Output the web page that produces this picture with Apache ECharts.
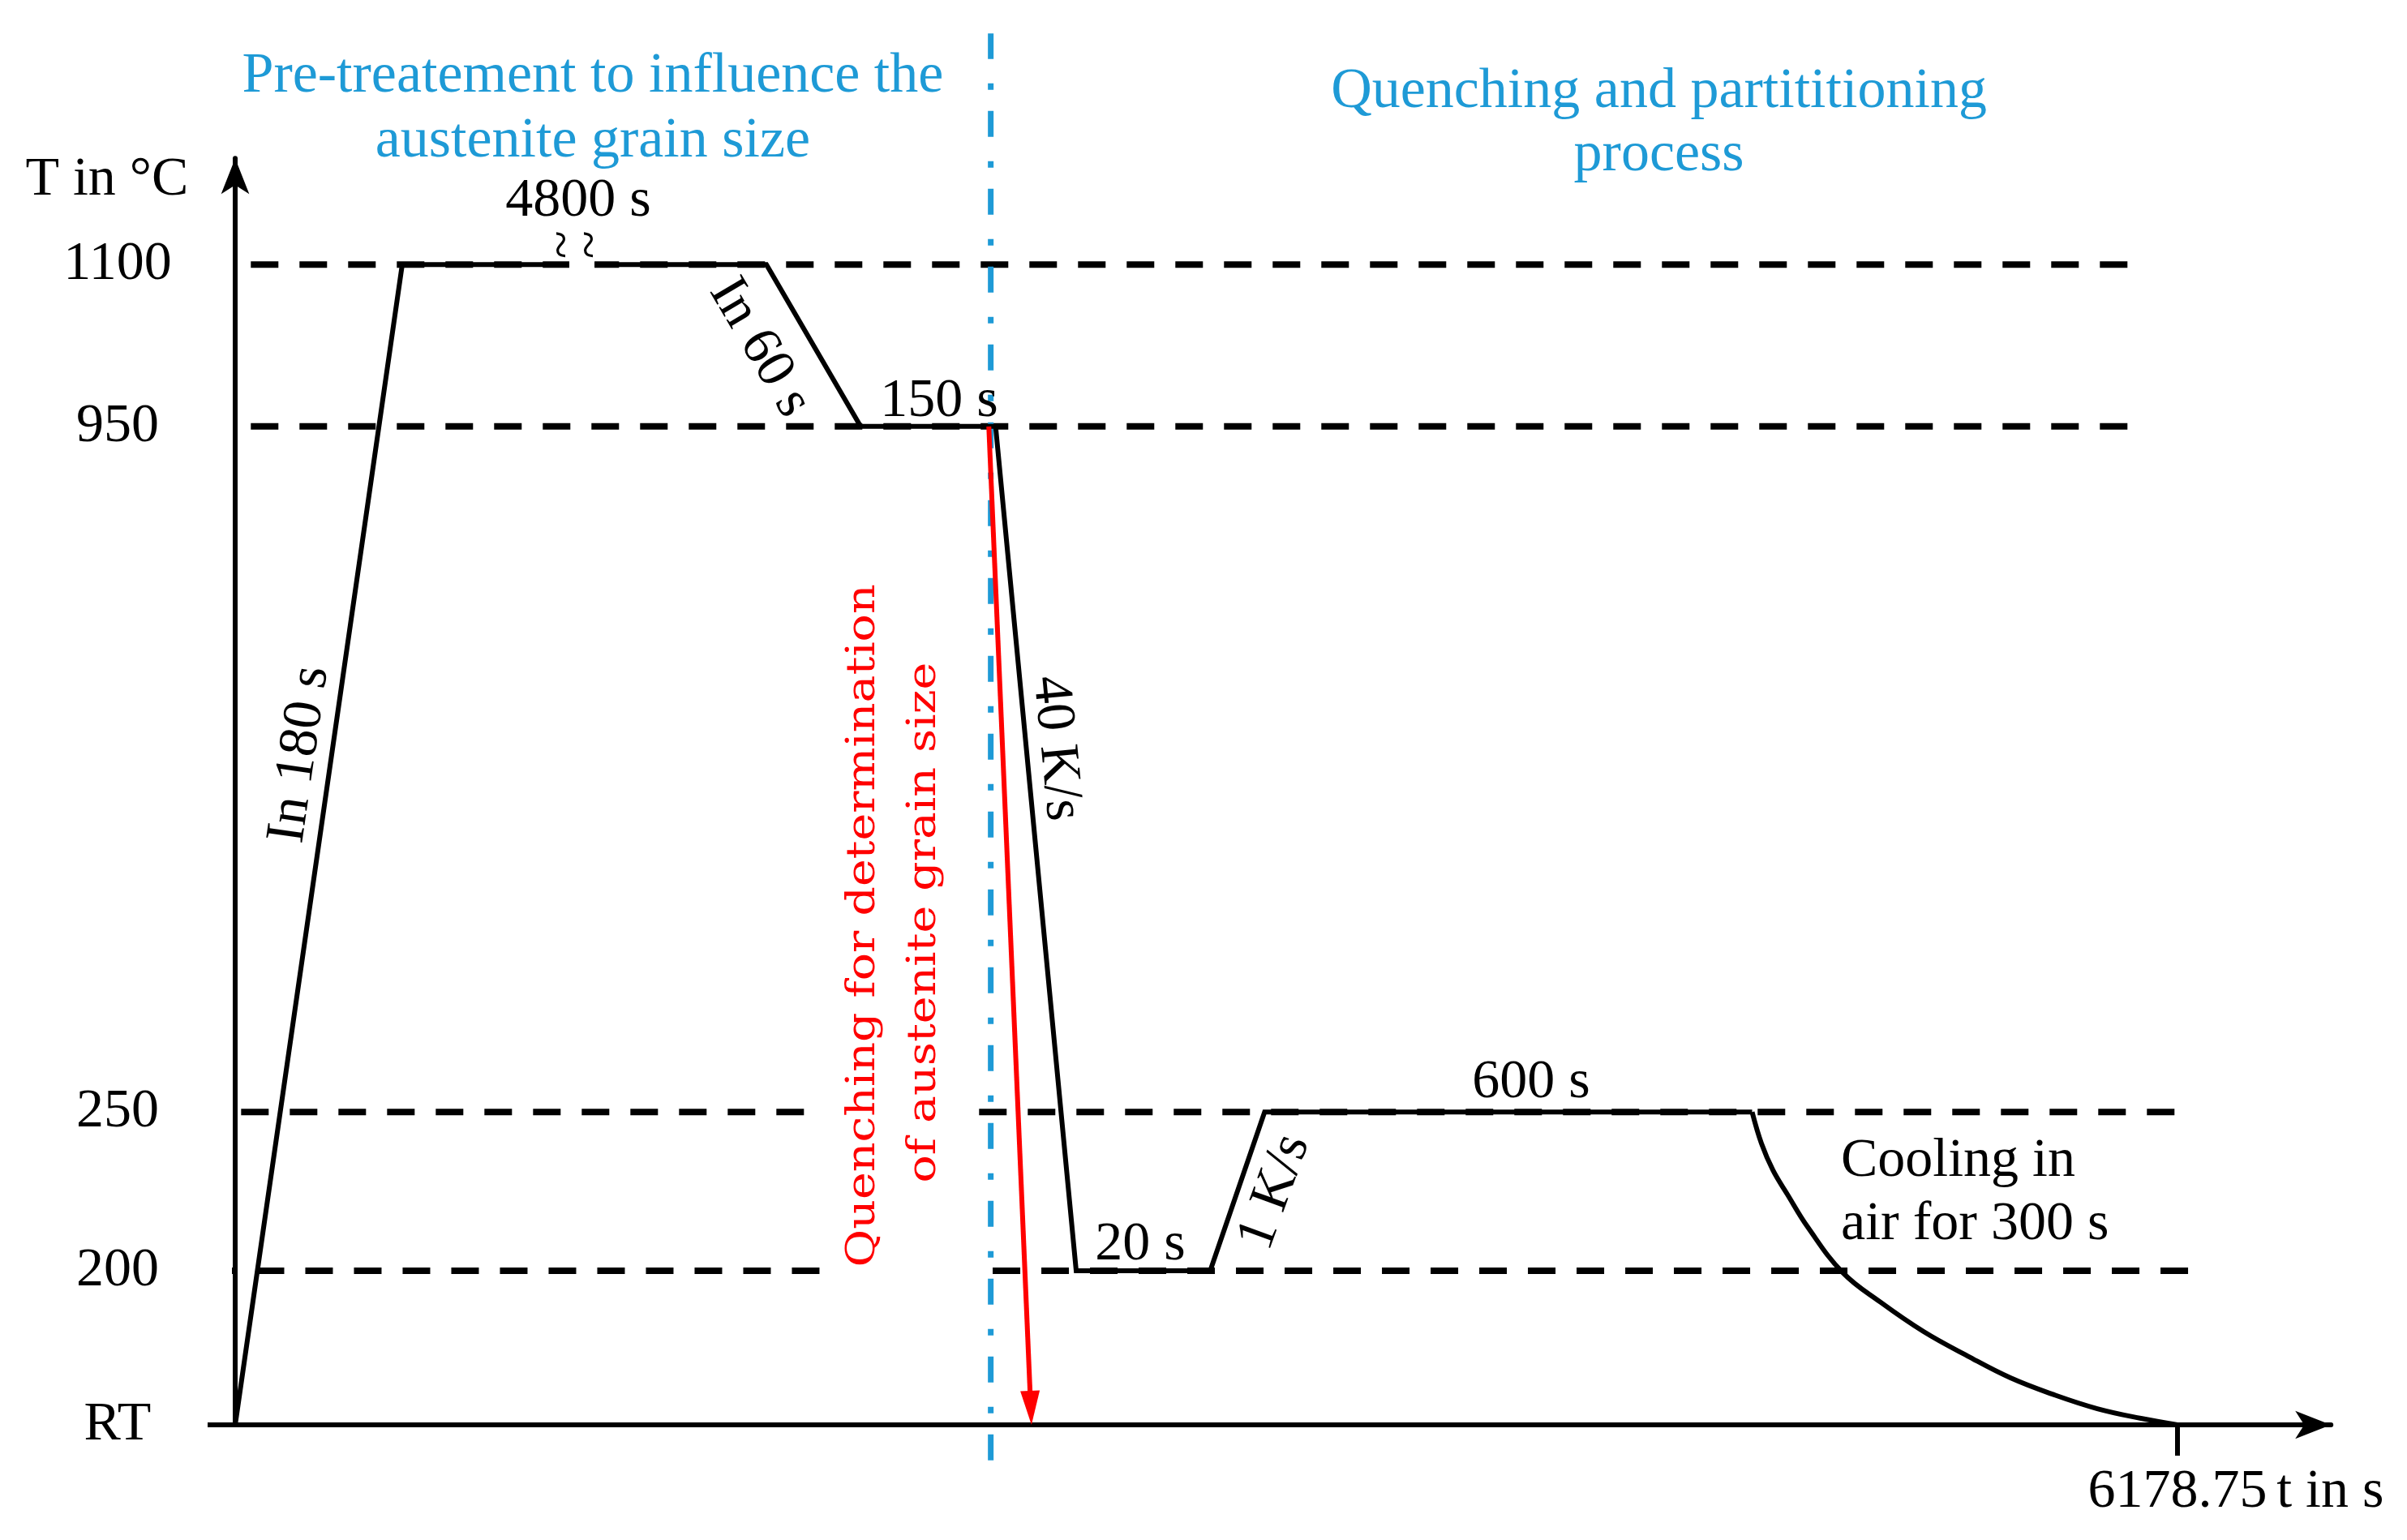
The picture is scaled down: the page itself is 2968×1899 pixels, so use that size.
<!DOCTYPE html>
<html>
<head>
<meta charset="utf-8">
<title>Heat treatment schedule</title>
<script src="https://cdn.jsdelivr.net/npm/echarts@6/dist/echarts.min.js"></script>
<style>
    html, body { margin: 0; padding: 0; background: #fff; }
    #main { width: 2968px; height: 1899px; }
</style>
</head>
<body>
<div id="main"></div>
<script>
// temperature levels, the y axis is only schematic (not to scale)
var tempLabels = ['RT', '200', '250', '950', '1100'];
var tempLevels = [0, 1, 2.03, 6.48, 7.53];

// time axis is schematic too, 100 = end of the schedule
var timeTickPos = [100];
var timeTickLabels = ['6178.75'];

// corners of the temperature profile
var stepX = [0, 8.6, 27.35, 32.2, 39.15, 43.3, 50.2, 53.0, 78.1];
var stepT = ['RT', '1100', '1100', '950', '950', '200', '200', '250', '250'];
var holdBreak = [17.2, 18.5];   // the 4800 s hold is cut

// cooling in air (300 s)
var coolX = [78.1, 78.58, 79.17, 79.92, 80.96, 82.76, 84.72, 86.93, 89.19, 91.4, 93.65, 95.87, 98.12, 100];
var coolY = [2.03, 1.826, 1.653, 1.495, 1.284, 0.989, 0.795, 0.605, 0.447, 0.305, 0.195, 0.105, 0.042, 0];

// dashed guide lines at each temperature
var refLevels = ['1100', '950', '250', '200'];
var refStart = [-1.7, -1.7, -2.2, -1.4];
var refEnd = [98.3, 98.3, 100.5, 101.1];
var refGap = [null, null, [29.6, 38.3], [30.2, 39.0]];

// blue separator and red quenching arrow
var sepX = 38.9;
var sepY = [-0.23, 9.03];
var quenchX = [38.8, 40.96];
var quenchT = ['950', 'RT'];

var blue = '#1e9ad6';
var serif = 'Liberation Serif';

// text notes, placed in axis units
var notes = [
    {text: 'Pre-treatement to influence the', x: 18.41, y: 8.75, color: blue, size: 70},
    {text: 'austenite grain size', x: 18.41, y: 8.33, color: blue, size: 70},
    {text: 'Quenching and partititioning', x: 73.3, y: 8.65, color: blue, size: 70},
    {text: 'process', x: 73.3, y: 8.24, color: blue, size: 70},
    {text: 'T in °C', x: -6.6, y: 8.08},
    {text: '4800 s', x: 17.66, y: 7.94},
    {text: '~', x: 16.95, y: 7.66, size: 64, rot: 90},
    {text: '~', x: 18.4, y: 7.66, size: 64, rot: 90},
    {text: 'In 180 s', x: 3.34, y: 4.35, rot: 81.8},
    {text: 'In 60 s', x: 27.0, y: 6.99, rot: -59.5},
    {text: '150 s', x: 36.24, y: 6.64},
    {text: '40 K/s', x: 42.25, y: 4.39, rot: -84.5},
    {text: 'Quenching for determination', x: 32.36, y: 3.24, rot: 90, color: '#ff0000', size: 57, family: 'DejaVu Serif', sy: 0.85},
    {text: 'of austenite grain size', x: 35.49, y: 3.26, rot: 90, color: '#ff0000', size: 57, family: 'DejaVu Serif', sy: 0.85},
    {text: '20 s', x: 46.6, y: 1.17},
    {text: '1 K/s', x: 53.53, y: 1.51, rot: 70},
    {text: '600 s', x: 66.72, y: 2.22},
    {text: 'Cooling in', x: 82.67, y: 1.71, align: 'left'},
    {text: 'air for 300 s', x: 82.67, y: 1.30, align: 'left'},
    {text: 't in s', x: 105.1, y: -0.437, align: 'left'}
];

// layout
var xMax = 107.9, yMax = 8.22;
var xUnit = 23.95, yUnit = 190;
var gridLeft = 290, gridBottom = 142;

function lvl(name) {
    return tempLevels[tempLabels.indexOf(name)];
}

var chart = echarts.init(document.getElementById('main'));

var series = [];

// guide lines
refLevels.forEach(function(name, i) {
    var y = lvl(name);
    var pieces = refGap[i] ? [[refStart[i], refGap[i][0]], [refGap[i][1], refEnd[i]]] : [[refStart[i], refEnd[i]]];
    pieces.forEach(function(p) {
        series.push({
            type: 'line', silent: true, clip: false, symbol: 'none', z: 1,
            data: [[p[0], y], [p[1], y]],
            lineStyle: {color: '#000', width: 8, type: [34, 26]}
        });
    });
});

// white cut across the long hold
series.push({
    type: 'line', silent: true, clip: false, symbol: 'none', z: 2,
    data: [[holdBreak[0], lvl('1100')], [holdBreak[1], lvl('1100')]],
    lineStyle: {color: '#fff', width: 16}
});

// blue dash-dot separator
series.push({
    type: 'line', silent: true, clip: false, symbol: 'none', z: 3,
    data: [[sepX, sepY[0]], [sepX, sepY[1]]],
    lineStyle: {color: blue, width: 7, type: [32, 26, 8, 30]}
});

// profile
var pts = stepX.map(function(x, i) { return [x, lvl(stepT[i])]; });
var partA = [pts[0], pts[1], [holdBreak[0], pts[1][1]]];
var partB = [[holdBreak[1], pts[2][1]]].concat(pts.slice(2));
[partA, partB].forEach(function(d) {
    series.push({
        type: 'line', silent: true, clip: false, symbol: 'none', z: 4,
        data: d,
        lineStyle: {color: '#000', width: 6, join: 'miter'}
    });
});
series.push({
    type: 'line', silent: true, clip: false, symbol: 'none', z: 4,
    smooth: 0.4,
    data: coolX.map(function(x, i) { return [x, coolY[i]]; }),
    lineStyle: {color: '#000', width: 6}
});

// quenching arrow, tip ends on the time axis
var arrowLen = 42;
series.push({
    type: 'line', silent: true, clip: false, symbol: 'none', z: 5,
    data: [],
    markLine: {
        silent: true, animation: false,
        label: {show: false},
        lineStyle: {color: '#ff0000', width: 6, type: 'solid'},
        data: [[
            {coord: [quenchX[0], lvl(quenchT[0])], symbol: 'none'},
            {coord: [quenchX[1], lvl(quenchT[1]) + arrowLen / 2 / yUnit], symbol: 'triangle', symbolSize: [24, arrowLen]}
        ]]
    }
});

var option = {
    backgroundColor: '#fff',
    animation: false,
    grid: {
        left: gridLeft,
        bottom: gridBottom,
        top: 1899 - gridBottom - yMax * yUnit,
        right: 2968 - gridLeft - xMax * xUnit
    },
    xAxis: {
        type: 'value', min: 0, max: xMax,
        splitLine: {show: false},
        axisLine: {show: true, symbol: ['none', 'arrow'], symbolSize: [26, 44], lineStyle: {color: '#000', width: 6}},
        axisTick: {show: true, customValues: timeTickPos, length: 38, lineStyle: {color: '#000', width: 6}},
        axisLabel: {
            show: true, customValues: timeTickPos, margin: 49,
            fontFamily: serif, fontSize: 68, color: '#000',
            formatter: function(v) { return timeTickLabels[timeTickPos.indexOf(v)]; }
        }
    },
    yAxis: {
        type: 'value', min: 0, max: yMax,
        splitLine: {show: false},
        axisLine: {show: true, symbol: ['none', 'arrow'], symbolSize: [26, 44], lineStyle: {color: '#000', width: 6}},
        axisTick: {show: true, customValues: [0], length: 34, lineStyle: {color: '#000', width: 6}},
        axisLabel: {
            show: true, customValues: tempLevels, margin: 145, align: 'center',
            fontFamily: serif, fontSize: 68, color: '#000',
            formatter: function(v) {
                for (var i = 0; i < tempLevels.length; i++) {
                    if (Math.abs(tempLevels[i] - v) < 1e-6) return tempLabels[i];
                }
                return '';
            }
        }
    },
    series: series
};
chart.setOption(option);

// texts go on top once the grid is known
var graphics = notes.map(function(n) {
    var p = chart.convertToPixel({gridIndex: 0}, [n.x, n.y]);
    return {
        type: 'text', x: p[0], y: p[1], z: 100, silent: true,
        rotation: (n.rot || 0) * Math.PI / 180,
        scaleY: n.sy || 1,
        style: {
            text: n.text,
            fontFamily: n.family || serif,
            fontSize: n.size || 68,
            fill: n.color || '#000',
            align: n.align || 'center',
            verticalAlign: 'middle'
        }
    };
});
chart.setOption({graphic: graphics});
</script>
</body>
</html>
